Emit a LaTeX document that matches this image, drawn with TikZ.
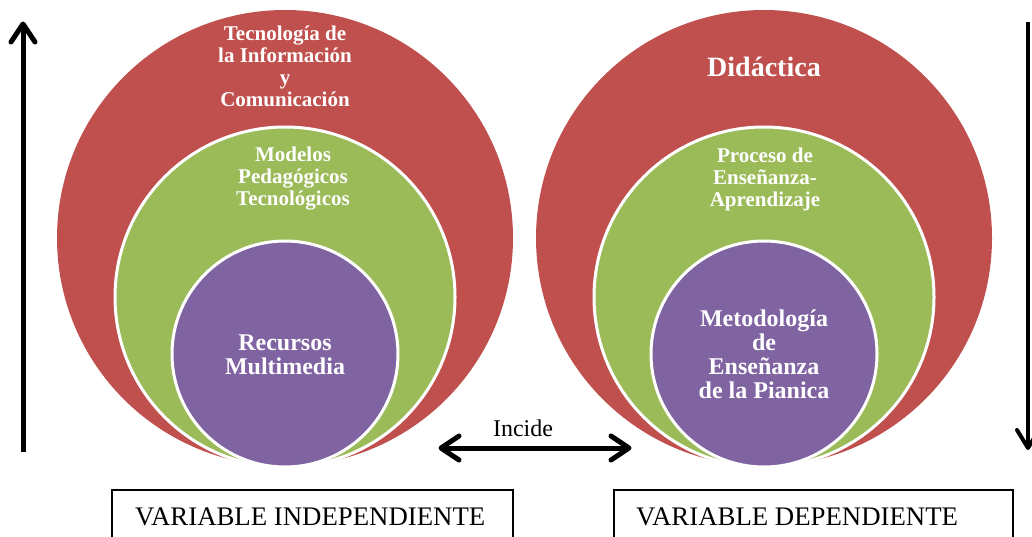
\documentclass[tikz,border=0pt]{standalone}
\usepackage{fontspec}
\setmainfont{Liberation Serif}
\definecolor{cred}{HTML}{C0504D}
\definecolor{cgreen}{HTML}{9BBB59}
\definecolor{cpurple}{HTML}{8064A2}
\tikzset{
  ring/.style={circle, inner sep=0pt, draw=white, line width=3pt},
  lbl/.style={text=white, align=center, font=\bfseries\fontsize{21}{22}\selectfont},
  lblbig/.style={text=white, align=center, font=\bfseries\fontsize{24}{24}\selectfont},
  varbox/.style={draw=black, line width=1.2pt},
  vtext/.style={anchor=base west, inner sep=0pt, font=\fontsize{26.8}{27}\selectfont},
  shaft/.style={line width=5pt},
  chev/.style={line width=5pt, line cap=round, line join=round},
}
\begin{document}
\begin{tikzpicture}[x=1pt,y=-1pt]
\useasboundingbox (0,0) rectangle (1032,537);
% left set
\node[ring, draw=none, fill=cred, minimum size=456pt] (redL) at (285,238) {};
\node[ring, fill=cgreen, minimum size=340pt] (greenL) at (285,297) {};
\node[ring, fill=cpurple, minimum size=226pt] (purpleL) at (285,354) {};
% right set
\node[ring, draw=none, fill=cred, minimum size=456pt] (redR) at (764,238) {};
\node[ring, fill=cgreen, minimum size=340pt] (greenR) at (764,297) {};
\node[ring, fill=cpurple, minimum size=226pt] (purpleR) at (764,354) {};
% texts
\node[lbl] (tTIC) at (285,66) {Tecnología de\\la Información\\y\\Comunicación};
\node[lbl, font=\bfseries\fontsize{28}{28}\selectfont] (tDid) at (764,67) {Didáctica};
\node[lbl] (tMod) at (293,179) {Modelos\\Pedagógicos\\Tecnológicos};
\node[lbl] (tPro) at (765,179) {Proceso de\\Enseñanza-\\Aprendizaje};
\node[lblbig] (tRec) at (285,355) {Recursos\\Multimedia};
\node[lblbig] (tMet) at (764,354) {Metodología\\de\\Enseñanza\\de la Pianica};
% vertical arrows
\coordinate (la0) at (23,452);
\coordinate (la1) at (23,24);
\draw[shaft] (la0) -- (la1);
\draw[chev] (la1) ++(-12,18) -- (la1) -- ++(12,18);
\coordinate (ra0) at (1028,22);
\coordinate (ra1) at (1028,448);
\draw[shaft, line width=4pt] (ra0) -- (ra1);
\draw[chev, line width=4pt] (ra1) ++(-11,-18) -- (ra1) -- ++(11,-18);
% incide arrow
\coordinate (ia0) at (441,448);
\coordinate (ia1) at (629,448);
\draw[shaft] (ia0) -- (ia1);
\draw[chev] (ia0) ++(18,-12) -- (ia0) -- ++(18,12);
\draw[chev] (ia1) ++(-18,-12) -- (ia1) -- ++(-18,12);
\node[font=\fontsize{24}{24}\selectfont, inner sep=0pt] (inc) at (523,428) {Incide};
% boxes
\draw[varbox] (112,540) |- (513,490) -- (513,540);
\draw[varbox] (614,540) |- (1013,490) -- (1013,540);
\node[vtext] (vi) at (135,525) {VARIABLE INDEPENDIENTE};
\node[vtext] (vd) at (636,525) {VARIABLE DEPENDIENTE};
\end{tikzpicture}
\end{document}
